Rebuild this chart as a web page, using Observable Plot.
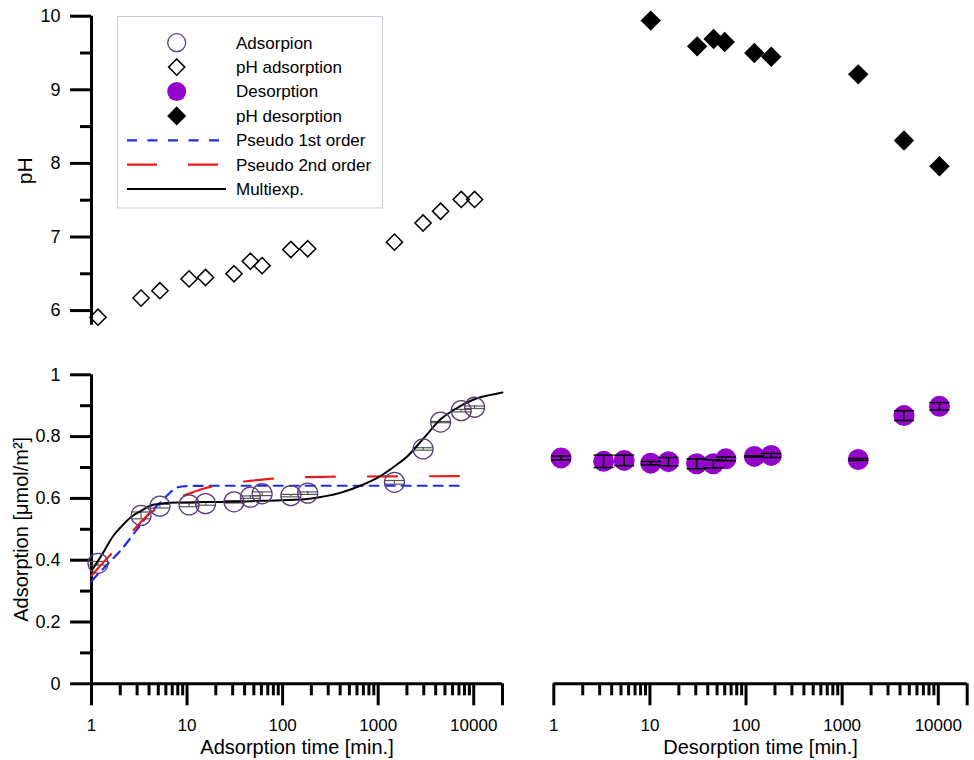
<!DOCTYPE html>
<html><head><meta charset="utf-8">
<script src="https://cdn.jsdelivr.net/npm/d3@7"></script>
<script src="https://cdn.jsdelivr.net/npm/@observablehq/plot@0.6"></script>
<style>
html,body{margin:0;padding:0;background:#fff;}
#fig{position:relative;width:974px;height:760px;font-family:"Liberation Sans",Arial,sans-serif;overflow:hidden;}
</style></head><body><div id="fig"></div>
<script>
// ---------- data ----------
const adsTime  = [1.17, 3.3, 5.2, 10.5, 15.6, 31, 46, 61, 122, 183, 1480, 2950, 4500, 7400, 10200];
const adsValue = [0.390, 0.545, 0.575, 0.579, 0.583, 0.589, 0.604, 0.615, 0.609, 0.617, 0.652, 0.760, 0.847, 0.884, 0.895];
const adsErr   = [0.006, 0.011, 0.006, 0.006, 0.005, 0.004, 0.004, 0.006, 0.004, 0.004, 0.006, 0.004, 0.002, 0.004, 0.004];
const phAds    = [5.91, 6.17, 6.27, 6.43, 6.45, 6.50, 6.67, 6.61, 6.83, 6.84, 6.93, 7.19, 7.35, 7.51, 7.51];

const desTime  = [1.19, 3.3, 5.4, 10.2, 15.6, 30.6, 45.7, 61.7, 122, 183, 1470, 4400, 10290];
const desValue = [0.731, 0.720, 0.723, 0.714, 0.719, 0.712, 0.712, 0.728, 0.736, 0.739, 0.726, 0.868, 0.898];
const desErr   = [0.0065, 0.020, 0.017, 0.0055, 0.0135, 0.016, 0.013, 0.006, 0.002, 0.0065, 0.003, 0.016, 0.012];

const phDesTime = [10.2, 31, 46, 60, 122, 183, 1470, 4400, 10290];
const phDes     = [9.94, 9.59, 9.69, 9.65, 9.50, 9.45, 9.21, 8.31, 7.96];

const fit1Time = [1, 1.5, 2, 3, 4, 5, 6, 7, 8, 10, 20, 100, 1000, 7500];
const fit1Val  = [0.332, 0.39, 0.43, 0.50, 0.55, 0.58, 0.605, 0.625, 0.636, 0.640, 0.641, 0.641, 0.641, 0.641];

const fit2Time = [1, 1.5, 2, 3, 4, 5, 7, 10, 15, 20, 30, 50, 80, 150, 300, 1000, 7500];
const fit2Val  = [0.350, 0.41, 0.45, 0.51, 0.55, 0.57, 0.595, 0.613, 0.632, 0.641, 0.650, 0.658, 0.664, 0.668, 0.670, 0.671, 0.672];

const multiTime = [1, 1.3, 1.7, 2, 2.6, 3.2, 4.2, 5.7, 8, 15, 30, 60, 100, 200, 400, 700, 1000, 1500, 2000, 3000, 4500, 7000, 10000, 15000, 20000];
const multiVal  = [0.365, 0.42, 0.48, 0.505, 0.54, 0.557, 0.577, 0.584, 0.587, 0.588, 0.589, 0.592, 0.594, 0.600, 0.618, 0.645, 0.668, 0.705, 0.735, 0.795, 0.856, 0.896, 0.920, 0.935, 0.943];

const xDomain = [1, 20000];
const xMajor = [1, 10, 100, 1000, 10000, 20000];
const xMinor = [2,3,4,5,6,7,8,9, 20,30,40,50,60,70,80,90, 200,300,400,500,600,700,800,900, 2000,3000,4000,5000,6000,7000,8000,9000];
const phMajor = [6, 7, 8, 9, 10];
const phMinor = [6.5, 7.5, 8.5, 9.5];
const adMajor = [0, 0.2, 0.4, 0.6, 0.8, 1];
const adMinor = [0.1, 0.3, 0.5, 0.7, 0.9];

const legendLabels = ["Adsorpion", "pH adsorption", "Desorption", "pH desorption", "Pseudo 1st order", "Pseudo 2nd order", "Multiexp."];

// ---------- tables ----------
const adsData = adsTime.map((t, i) => ({t, v: adsValue[i], e: adsErr[i], ph: phAds[i]}));
const desData = desTime.map((t, i) => ({t, v: desValue[i], e: desErr[i]}));
const phDesData = phDesTime.map((t, i) => ({t, ph: phDes[i]}));
const fit1 = fit1Time.map((t, i) => ({t, v: fit1Val[i]}));
const fit2 = fit2Time.map((t, i) => ({t, v: fit2Val[i]}));
const multi = multiTime.map((t, i) => ({t, v: multiVal[i]}));

// ---------- styling ----------
const FONT = '"Liberation Sans", Arial, sans-serif';
const baseStyle = {fontFamily: FONT, fontSize: "17px", background: "transparent", overflow: "visible", color: "black"};
const C_ADS = "#5a3d7a", C_DES = "#9205c9", C_P1 = "#1f2fe8", C_P2 = "#ee1a1a";
const capSymbol = {draw(ctx, size) { const w = Math.sqrt(size / Math.PI); ctx.moveTo(-w, 0); ctx.lineTo(w, 0); }};
const fmt = d => d === 20000 ? "" : String(d);

function xAxes() {
  return [
    Plot.ruleY([0], {strokeWidth: 3}),
    Plot.axisX({ticks: xMajor, tickSize: 22, tickPadding: 13, strokeWidth: 3, fontSize: 17, tickFormat: fmt, label: null}),
    Plot.axisX({ticks: xMinor, tickSize: 12, strokeWidth: 3, tickFormat: () => "", label: null})
  ];
}
function yAxes(major, minor) {
  return [
    Plot.ruleX([1], {strokeWidth: 3}),
    Plot.axisY({ticks: major, tickSize: 21, tickPadding: 10, strokeWidth: 3, fontSize: 18, tickFormat: d => String(d), label: null}),
    Plot.axisY({ticks: minor, tickSize: 11, strokeWidth: 3, tickFormat: () => "", label: null})
  ];
}
function errorBars(data, color, width) {
  return [
    Plot.ruleX(data, {x: "t", y1: d => d.v - d.e, y2: d => d.v + d.e, stroke: color, strokeWidth: width}),
    Plot.dot(data, {x: "t", y: d => d.v - d.e, symbol: capSymbol, r: 10, stroke: color, strokeWidth: width, fill: "none"}),
    Plot.dot(data, {x: "t", y: d => d.v + d.e, symbol: capSymbol, r: 10, stroke: color, strokeWidth: width, fill: "none"})
  ];
}
function xTitle(s) {
  return Plot.text([s], {text: d => d, frameAnchor: "bottom", textAnchor: "middle", lineAnchor: "middle", dy: 63.4, fontSize: 20});
}
function yTitle(s, dx, size) {
  return Plot.text([s], {text: d => d, frameAnchor: "left", textAnchor: "middle", lineAnchor: "middle", dx, rotate: -90, fontSize: size});
}

// ---------- top-left: pH during adsorption ----------
const A = Plot.plot({
  width: 520, height: 340, marginLeft: 91, marginRight: 18, marginTop: 15.7, marginBottom: 15.2,
  style: baseStyle,
  x: {type: "log", domain: xDomain, axis: null},
  y: {domain: [5.8, 10], axis: null},
  marks: [
    ...yAxes(phMajor, phMinor),
    yTitle("pH", -66, 21),
    Plot.dot(adsData, {x: "t", y: "ph", symbol: "diamond2", r: 7.3, stroke: "black", strokeWidth: 1.5, fill: "none"})
  ]
});

// ---------- top-right: pH during desorption ----------
const B = Plot.plot({
  width: 454, height: 340, marginLeft: 33.3, marginRight: 7.3, marginTop: 15.7, marginBottom: 15.2,
  style: baseStyle,
  x: {type: "log", domain: xDomain, axis: null},
  y: {domain: [5.8, 10], axis: null},
  marks: [
    Plot.dot(phDesData, {x: "t", y: "ph", symbol: "diamond2", r: 9.2, fill: "black", stroke: "none"})
  ]
});

// ---------- bottom-left: adsorption ----------
const C = Plot.plot({
  width: 520, height: 420, marginLeft: 91, marginRight: 18, marginTop: 34.3, marginBottom: 76.7,
  style: baseStyle,
  x: {type: "log", domain: xDomain, axis: null},
  y: {domain: [0, 1], axis: null},
  marks: [
    ...xAxes(),
    ...yAxes(adMajor, adMinor),
    xTitle("Adsorption time [min.]"),
    yTitle("Adsorption [μmol/m²]", -70, 20),
    ...errorBars(adsData, "#555", 1.2),
    Plot.line(fit1, {x: "t", y: "v", stroke: C_P1, strokeWidth: 2.2, strokeDasharray: "9,7", curve: "monotone-x"}),
    Plot.line(fit2, {x: "t", y: "v", stroke: C_P2, strokeWidth: 2.2, strokeDasharray: "29,33", curve: "monotone-x"}),
    Plot.line(multi, {x: "t", y: "v", stroke: "black", strokeWidth: 2, curve: "monotone-x"}),
    Plot.dot(adsData, {x: "t", y: "v", r: 10, stroke: C_ADS, strokeWidth: 1.3, fill: "none"})
  ]
});

// ---------- bottom-right: desorption ----------
const D = Plot.plot({
  width: 454, height: 420, marginLeft: 33.3, marginRight: 7.3, marginTop: 34.3, marginBottom: 76.7,
  style: baseStyle,
  x: {type: "log", domain: xDomain, axis: null},
  y: {domain: [0, 1], axis: null},
  marks: [
    ...xAxes(),
    xTitle("Desorption time [min.]"),
    Plot.dot(desData, {x: "t", y: "v", r: 10.5, fill: C_DES, stroke: "none"}),
    ...errorBars(desData, "black", 1.5)
  ]
});

const fig = document.getElementById("fig");
[[A, 0, 0], [B, 520, 0], [C, 0, 340], [D, 520, 340]].forEach(([el, x, y]) => {
  el.style.position = "absolute";
  el.style.left = x + "px";
  el.style.top = y + "px";
  fig.appendChild(el);
});

// ---------- legend ----------
const lg = d3.select(fig).append("svg")
  .attr("width", 268).attr("height", 196)
  .style("position", "absolute").style("left", "117px").style("top", "16px")
  .style("font-family", FONT);
lg.append("rect").attr("x", 0.5).attr("y", 0.5).attr("width", 265).attr("height", 191.5)
  .attr("fill", "white").attr("stroke", "#cfcad6").attr("stroke-width", 1);
const rowY = i => 26.7 + i * 24.4;
const symX = 59.7;
lg.append("circle").attr("cx", symX).attr("cy", rowY(0)).attr("r", 9).attr("fill", "none").attr("stroke", C_ADS).attr("stroke-width", 1.3);
lg.append("path").attr("d", d3.symbol(d3.symbolDiamond2, 7.3 * 7.3 * Math.PI)()).attr("transform", `translate(${symX},${rowY(1)})`)
  .attr("fill", "none").attr("stroke", "black").attr("stroke-width", 1.5);
lg.append("circle").attr("cx", symX).attr("cy", rowY(2)).attr("r", 9.5).attr("fill", C_DES);
lg.append("path").attr("d", d3.symbol(d3.symbolDiamond2, 8.6 * 8.6 * Math.PI)()).attr("transform", `translate(${symX},${rowY(3)})`)
  .attr("fill", "black");
lg.append("line").attr("x1", 10).attr("x2", 102).attr("y1", rowY(4)).attr("y2", rowY(4))
  .attr("stroke", C_P1).attr("stroke-width", 2.2).attr("stroke-dasharray", "10,10.5");
lg.append("line").attr("x1", 10).attr("x2", 102).attr("y1", rowY(5)).attr("y2", rowY(5))
  .attr("stroke", C_P2).attr("stroke-width", 2.2).attr("stroke-dasharray", "30,31");
lg.append("line").attr("x1", 10).attr("x2", 109).attr("y1", rowY(6)).attr("y2", rowY(6))
  .attr("stroke", "black").attr("stroke-width", 2);
legendLabels.forEach((s, i) => {
  lg.append("text").attr("x", 119).attr("y", rowY(i)).attr("dy", "0.35em")
    .attr("font-size", 17).attr("fill", "black").text(s);
});
</script></body></html>
